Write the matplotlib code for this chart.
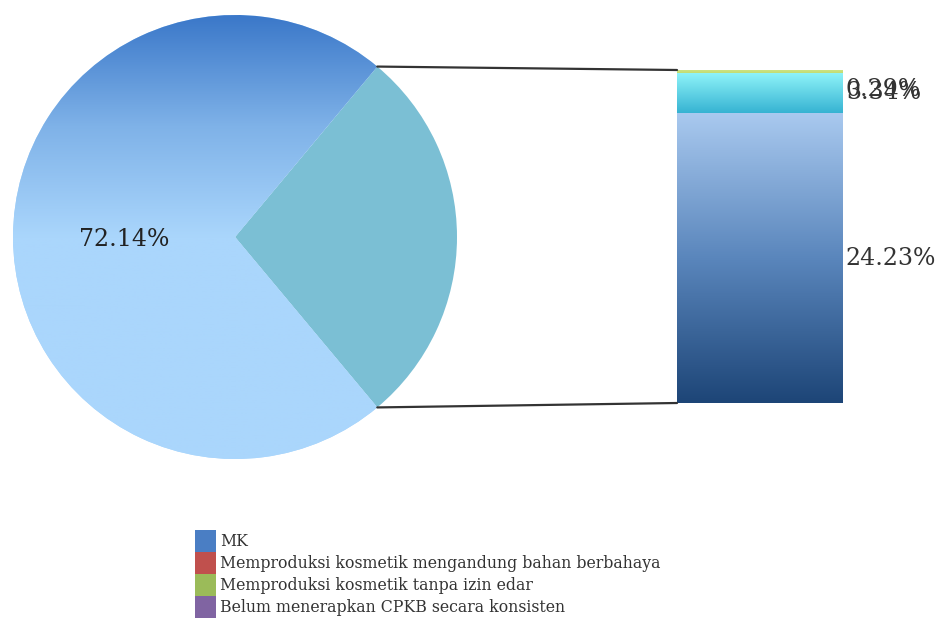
import numpy as np
import matplotlib.pyplot as plt
from matplotlib.patches import Patch, ConnectionPatch
from matplotlib.colors import LinearSegmentedColormap

# data
pie_labels = ['MK', 'Lainnya']
mk_value = 72.14
bar_values = [24.23, 3.34, 0.29]  # bottom -> top of the stacked bar
bar_labels = ['24.23%', '3.34%', '0.29%']
legend_labels = ['MK',
                 'Memproduksi kosmetik mengandung bahan berbahaya',
                 'Memproduksi kosmetik tanpa izin edar',
                 'Belum menerapkan CPKB secara konsisten']
legend_colors = ['#4a7ec4', '#c0504d', '#9bbb59', '#8064a2']

plt.rcParams['font.family'] = ['DejaVu Serif']

other_value = sum(bar_values)
pie_values = [other_value, mk_value]

fig = plt.figure(figsize=(9.42, 6.19), dpi=100)

# pie
ax1 = fig.add_axes([13 / 942, 160 / 619, 444 / 942, 444 / 619])
start = -other_value / 2 * 3.6
wedges, _ = ax1.pie(pie_values, startangle=start, radius=1,
                    colors=['#7bbfd4', '#aad6fc'],
                    wedgeprops=dict(linewidth=0))
# vertical gradient on the MK slice
grad = np.linspace(0, 1, 256).reshape(-1, 1)
grad = np.clip(grad * 2 - 1, 0, 1)  # light below centre, darker toward top
cmap_mk = LinearSegmentedColormap.from_list('mk', ['#aad6fc', '#7fb2e8', '#3b78c9'])
im = ax1.imshow(grad, extent=(-1, 1, -1, 1), origin='lower', cmap=cmap_mk,
                aspect='auto', zorder=2)
im.set_clip_path(wedges[1])
ax1.set_xlim(-1, 1)
ax1.set_ylim(-1, 1)
ax1.axis('off')

w = wedges[1]
mid = np.deg2rad((w.theta1 + w.theta2) / 2)
ax1.text(0.5 * np.cos(mid), 0.5 * np.sin(mid) - 0.01, f'{mk_value:.2f}%',
         ha='center', va='center', fontsize=17, color='#222222', zorder=3)

# stacked bar
ax2 = fig.add_axes([677 / 942, 216 / 619, 166 / 942, 333 / 619])
bar_cmaps = [
    LinearSegmentedColormap.from_list('b0', ['#1d4577', '#5a86bc', '#a9c9ef']),
    LinearSegmentedColormap.from_list('b1', ['#36b3d2', '#8ef3f9']),
    LinearSegmentedColormap.from_list('b2', ['#c3dc72', '#cfe488']),
]
bottom = 0
for val, cm in zip(bar_values, bar_cmaps):
    rect = ax2.bar(0, val, bottom=bottom, width=1, color='none', linewidth=0)[0]
    g = ax2.imshow(np.linspace(0, 1, 256).reshape(-1, 1), cmap=cm, origin='lower',
                   extent=(-0.5, 0.5, bottom, bottom + val), aspect='auto', zorder=2)
    g.set_clip_path(rect)
    bottom += val
ax2.set_xlim(-0.5, 0.5)
ax2.set_ylim(0, other_value)
ax2.axis('off')

# labels on the right side of the bar (the two small ones overlap, as in the source)
offsets = [0, 1, -13]
bottom = 0
for val, lab, off in zip(bar_values, bar_labels, offsets):
    ax2.annotate(lab, xy=(0.5, bottom + val / 2), xytext=(2, off),
                 textcoords='offset points', ha='left', va='center',
                 fontsize=17, color='#333333', annotation_clip=False)
    bottom += val

# connector lines
for ang, yb in [(w.theta1, other_value), (w.theta2, 0)]:
    t = np.deg2rad(ang)
    con = ConnectionPatch(xyA=(np.cos(t), np.sin(t)), coordsA=ax1.transData,
                          xyB=(-0.5, yb), coordsB=ax2.transData,
                          color='#333333', linewidth=1.6)
    fig.add_artist(con)

# legend
handles = [Patch(facecolor=c, edgecolor='none') for c in legend_colors]
fig.legend(handles, legend_labels, loc='upper left',
           bbox_to_anchor=(184 / 942, 1 - 519 / 619), frameon=False,
           fontsize=11.3, handlelength=1.32, handleheight=1.78,
           handletextpad=0.3, labelspacing=0.0, borderpad=0.2,
           labelcolor='#333333')

fig.savefig('out.png', dpi=100)
